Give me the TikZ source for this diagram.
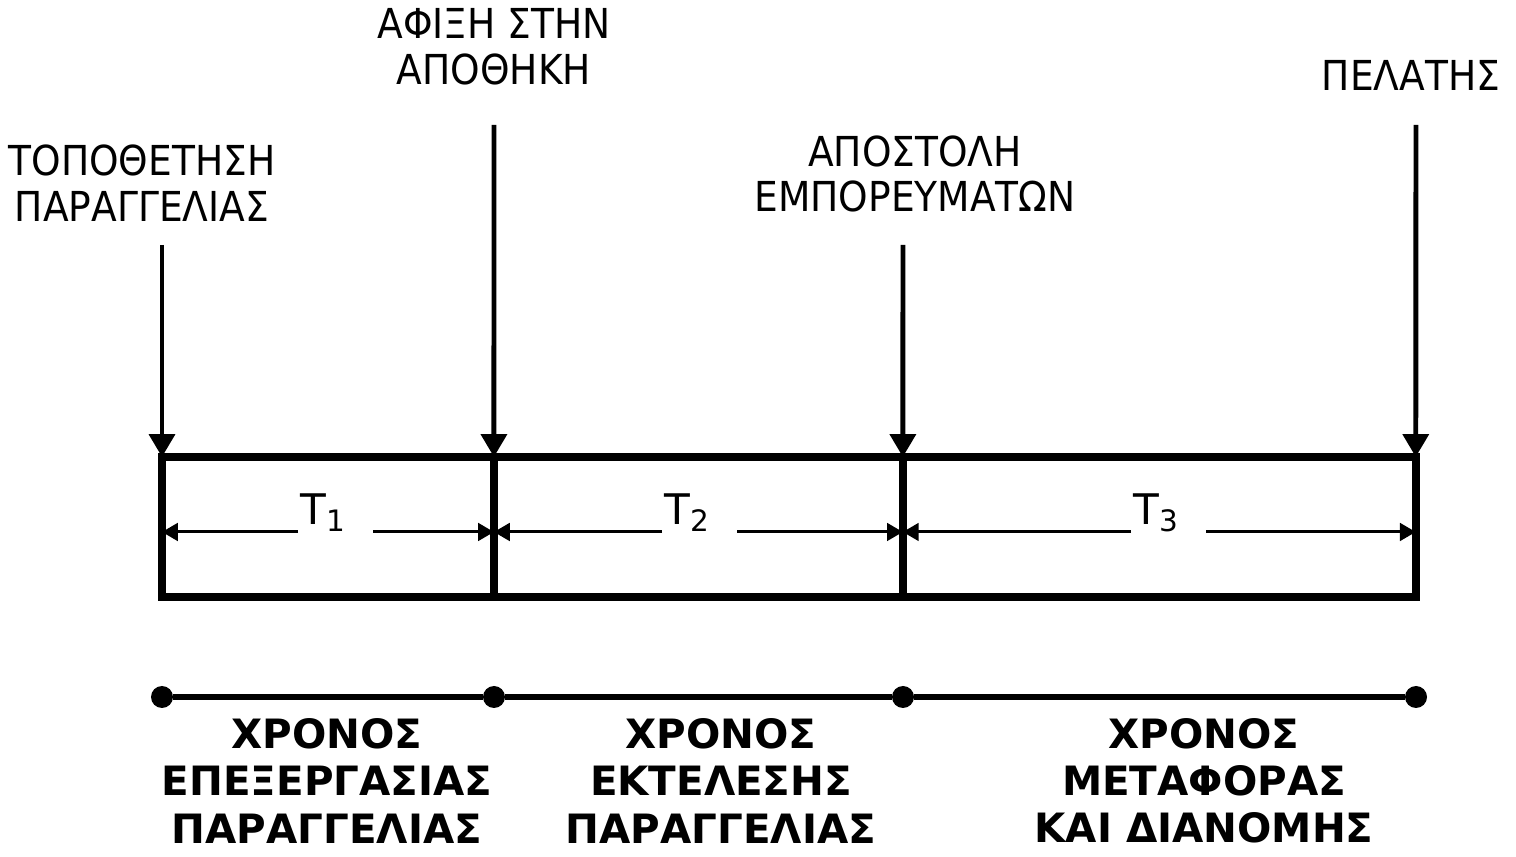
\documentclass[tikz,border=0pt]{standalone}
\usepackage{fontspec}
\setmainfont{DejaVu Sans}
\newfontfamily\eventfont[FakeStretch=0.91]{DejaVu Sans}
\usetikzlibrary{arrows.meta,calc}
\tikzset{%
    cellbox/.style={inner sep=0pt,outer sep=0pt,shape=rectangle,draw,line width=4.3pt,minimum height=2.8cm,anchor=north west},
    drop/.style={-{Triangle[length=13pt,width=14.5pt]},line width=2.8pt},
    dimen/.style={-{Triangle[length=9pt,width=10pt]},line width=1.7pt},
    tlabel/.style={inner ysep=0pt,inner xsep=1.5pt,text width=39.5pt,align=left,anchor=base west,font=\fontsize{24pt}{26pt}\selectfont},
    event/.style={align=center,inner sep=0pt,font=\eventfont\fontsize{23.5pt}{26pt}\selectfont},
    phase/.style={align=center,inner sep=0pt,font=\bfseries\fontsize{23pt}{26.8pt}\selectfont},
    dot/.style={circle,fill,inner sep=0pt,minimum size=0.44cm},
    timeline/.style={line width=3.8pt},
}

\begin{document}
\begin{tikzpicture}[x=0.02cm,y=-0.02cm]
        \useasboundingbox (0,0) rectangle (1516,857);

        \node [cellbox,minimum width=6.64cm] (cell1) at (162,457) {};
        \node [cellbox,minimum width=8.18cm] (cell2) at (cell1.north east) {};
        \node [cellbox,minimum width=10.26cm] (cell3) at (cell2.north east) {};

        \node [event] (order) at (142,183) {ΤΟΠΟΘΕΤΗΣΗ\\ΠΑΡΑΓΓΕΛΙΑΣ};
        \node [event] (arrival) at (494,47) {ΑΦΙΞΗ ΣΤΗΝ\\ΑΠΟΘΗΚΗ};
        \node [event] (shipping) at (915,174) {ΑΠΟΣΤΟΛΗ\\ΕΜΠΟΡΕΥΜΑΤΩΝ};
        \node [event] (customer) at (1411,75) {ΠΕΛΑΤΗΣ};

        \coordinate (a1) at (162,245);
        \coordinate (a2) at (494,125);
        \coordinate (a3) at (903,245);
        \coordinate (a4) at (1416,125);
        \draw [drop] (a1) -- (cell1.north west);
        \draw [drop] (a2) -- (cell2.north west);
        \draw [drop] (a3) -- (cell3.north west);
        \draw [drop] (a4) -- (cell3.north east);

        \coordinate (d1) at ($(cell1.west)+(0,5)$);
        \coordinate (d2) at ($(cell2.west)+(0,5)$);
        \coordinate (d3) at ($(cell3.west)+(0,5)$);
        \coordinate (d4) at ($(cell3.east)+(0,5)$);
        \node [tlabel] (T1) at (298,525) {T\textsubscript{1}};
        \node [tlabel] (T2) at (662,525) {T\textsubscript{2}};
        \node [tlabel] (T3) at (1131,525) {T\textsubscript{3}};
        \draw [dimen] (T1.west |- d1) -- (d1);
        \draw [dimen] (T1.east |- d1) -- (d2);
        \draw [dimen] (T2.west |- d2) -- (d2);
        \draw [dimen] (T2.east |- d2) -- (d3);
        \draw [dimen] (T3.west |- d3) -- (d3);
        \draw [dimen] (T3.east |- d3) -- (d4);

        \node [dot] (p1) at (162,697) {};
        \node [dot] (p2) at (494,697) {};
        \node [dot] (p3) at (903,697) {};
        \node [dot] (p4) at (1416,697) {};
        \draw [timeline] (p1) -- (p2) -- (p3) -- (p4);

        \node [phase] (proc) at (327,781) {ΧΡΟΝΟΣ\\ΕΠΕΞΕΡΓΑΣΙΑΣ\\ΠΑΡΑΓΓΕΛΙΑΣ};
        \node [phase] (exec) at (721,781) {ΧΡΟΝΟΣ\\ΕΚΤΕΛΕΣΗΣ\\ΠΑΡΑΓΓΕΛΙΑΣ};
        \node [phase] (deliv) at (1204,781) {ΧΡΟΝΟΣ\\ΜΕΤΑΦΟΡΑΣ\\ΚΑΙ ΔΙΑΝΟΜΗΣ};
\end{tikzpicture}
\end{document}
